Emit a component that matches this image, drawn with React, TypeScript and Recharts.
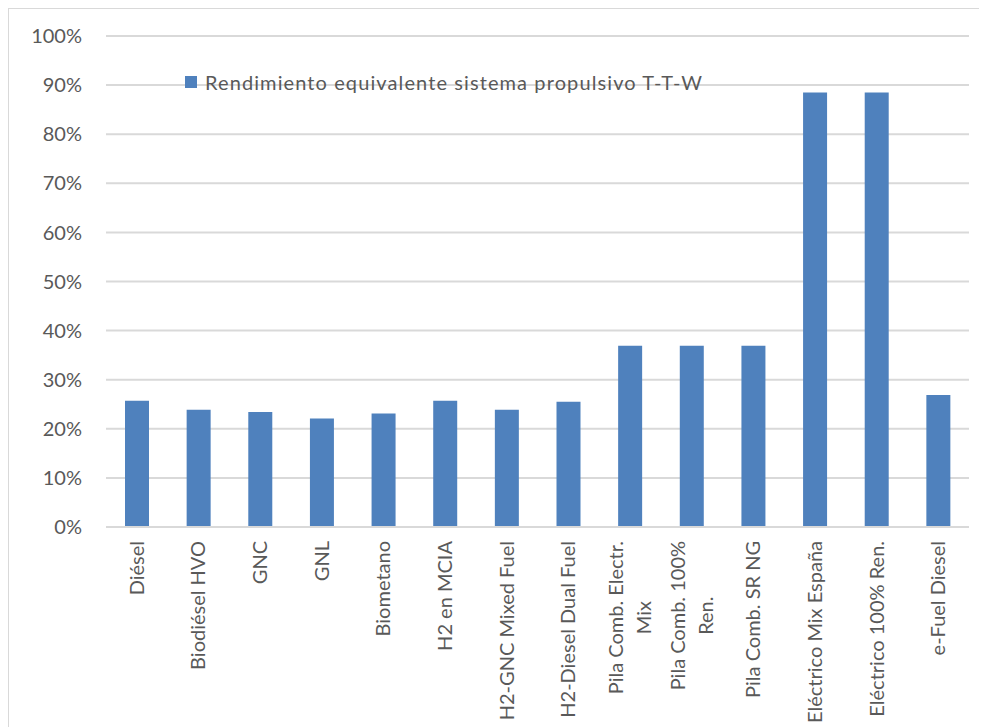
import React from "react";
import {
  Bar,
  BarChart,
  CartesianGrid,
  Legend,
  XAxis,
  YAxis,
} from "recharts";

const FONT = "Lato, 'Open Sans', sans-serif";
const TEXT_COLOR = "#595959";
const GRID_COLOR = "#d9d9d9";
const BAR_COLOR = "#4f81bd";

// categorías (salto de línea donde la etiqueta se parte en dos)
const categorias = [
  "Diésel",
  "Biodiésel HVO",
  "GNC",
  "GNL",
  "Biometano",
  "H2 en MCIA",
  "H2-GNC Mixed Fuel",
  "H2-Diesel Dual Fuel",
  "Pila Comb. Electr.\nMix",
  "Pila Comb. 100%\nRen.",
  "Pila Comb. SR NG",
  "Eléctrico Mix España",
  "Eléctrico 100% Ren.",
  "e-Fuel Diesel",
];

// rendimiento T-T-W en %
const rendimiento = [
  25.7, 23.9, 23.4, 22.1, 23.1, 25.7, 23.9, 25.5, 36.9, 36.9, 36.9, 88.5, 88.5,
  26.9,
];

const ticksY = [0, 10, 20, 30, 40, 50, 60, 70, 80, 90, 100];

const serieNombre = "Rendimiento equivalente sistema propulsivo T-T-W";

const data = categorias.map((cat, i) => ({ cat, valor: rendimiento[i] }));

let ctx: CanvasRenderingContext2D | null = null;
function medir(texto: string) {
  if (!ctx) {
    ctx = document.createElement("canvas").getContext("2d");
  }
  if (!ctx) return texto.length * 9;
  ctx.font = `20px ${FONT}`;
  return ctx.measureText(texto).width;
}

// etiqueta vertical, centrada si tiene varias líneas
function TickCategoria({ x, y, payload }: any) {
  const lineas = String(payload.value).split("\n");
  const anchos = lineas.map(medir);
  const maximo = Math.max(...anchos);
  const salto = 28;
  const inicio = -((lineas.length - 1) * salto) / 2;
  return (
    <g transform={`translate(${x},${y})`}>
      <text
        transform="rotate(-90)"
        fill={TEXT_COLOR}
        fontSize={20}
        fontFamily={FONT}
      >
        {lineas.map((l, i) => (
          <tspan
            key={i}
            x={-(maximo + anchos[i]) / 2}
            y={inicio + i * salto + 7}
          >
            {l}
          </tspan>
        ))}
      </text>
    </g>
  );
}

function Leyenda() {
  return (
    <div
      style={{
        display: "flex",
        alignItems: "center",
        fontFamily: FONT,
        fontSize: 20,
        letterSpacing: 1.1,
        color: TEXT_COLOR,
        whiteSpace: "nowrap",
      }}
    >
      <span
        style={{
          width: 12,
          height: 12,
          background: BAR_COLOR,
          marginRight: 8,
          display: "inline-block",
        }}
      />
      {serieNombre}
    </div>
  );
}

export default function App() {
  return (
    <div
      style={{
        width: 978,
        height: 718,
        borderLeft: `1px solid ${GRID_COLOR}`,
        borderTop: `1px solid ${GRID_COLOR}`,
        background: "#fff",
      }}
    >
      <BarChart
        width={978}
        height={718}
        data={data}
        margin={{ top: 27, right: 18, bottom: 0, left: 0 }}
      >
        <CartesianGrid
          vertical={false}
          stroke={GRID_COLOR}
          strokeWidth={2}
        />
        <XAxis
          dataKey="cat"
          interval={0}
          height={200}
          tickLine={false}
          tickSize={0}
          tickMargin={14}
          axisLine={{ stroke: GRID_COLOR, strokeWidth: 2 }}
          tick={<TickCategoria />}
        />
        <YAxis
          width={97}
          domain={[0, 100]}
          ticks={ticksY}
          tickFormatter={(v) => `${v}%`}
          axisLine={false}
          tickLine={false}
          tickSize={0}
          tickMargin={24}
          tick={{ fill: TEXT_COLOR, fontSize: 20, fontFamily: FONT }}
        />
        <Legend
          layout="horizontal"
          verticalAlign="middle"
          align="center"
          content={<Leyenda />}
          wrapperStyle={{ top: 61, left: 176, width: "auto" }}
        />
        <Bar
          dataKey="valor"
          name={serieNombre}
          fill={BAR_COLOR}
          barSize={24}
          isAnimationActive={false}
        />
      </BarChart>
    </div>
  );
}
